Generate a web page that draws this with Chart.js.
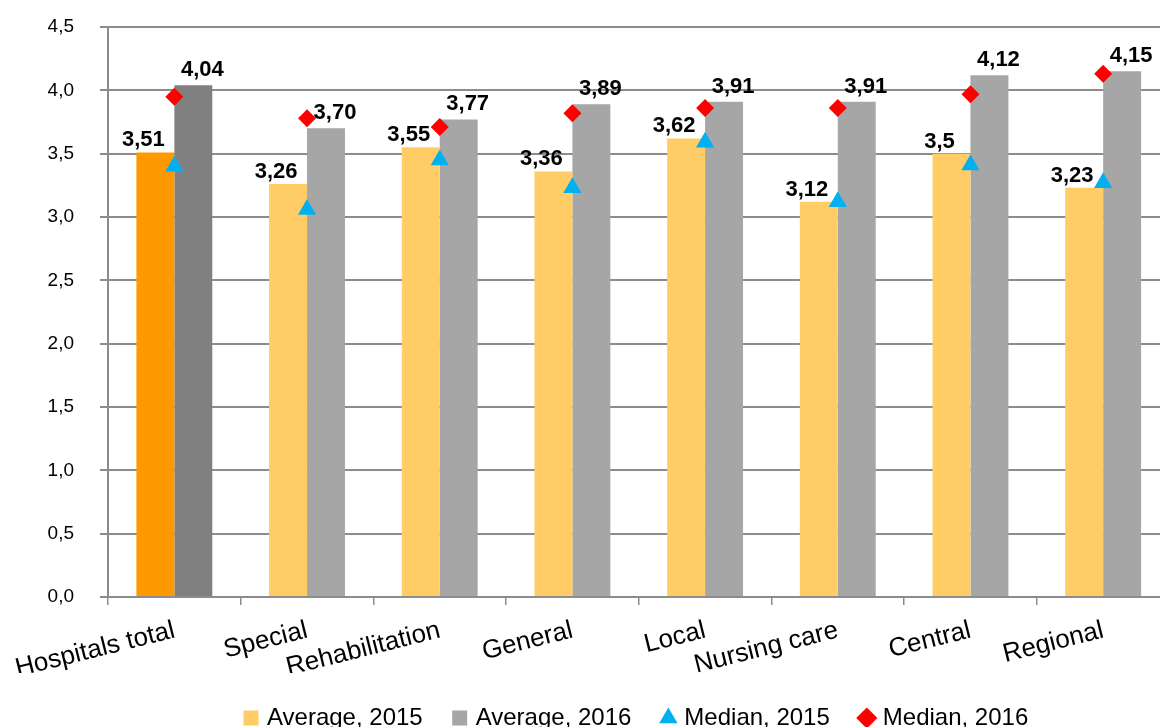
<!DOCTYPE html>
<html>
<head>
<meta charset="UTF-8">
<style>
  html, body { margin: 0; padding: 0; overflow: hidden; background: #fff; }
  #wrap { width: 1180px; height: 740px; }
</style>
</head>
<body>
<div id="wrap">
  <canvas id="myChart" width="1180" height="740"></canvas>
</div>

<script src="https://cdn.jsdelivr.net/npm/chart.js@4.4.0/dist/chart.umd.min.js"></script>

<script>
  const categories = ['Hospitals total', 'Special', 'Rehabilitation', 'General', 'Local', 'Nursing care', 'Central', 'Regional'];
  const average2015 = [3.51, 3.26, 3.55, 3.36, 3.62, 3.12, 3.5, 3.23];
  const average2016 = [4.04, 3.70, 3.77, 3.89, 3.91, 3.91, 4.12, 4.15];
  const median2015 = [3.40, 3.06, 3.45, 3.23, 3.59, 3.12, 3.41, 3.27];
  const median2016 = [3.95, 3.78, 3.71, 3.82, 3.86, 3.86, 3.97, 4.13];
  const yTicks = [0, 0.5, 1, 1.5, 2, 2.5, 3, 3.5, 4, 4.5];

  const FONT = '"Liberation Sans", Arial, sans-serif';
  const GRID = '#8c8c8c';

  // first bar of each series is darker (total)
  const orange = ctx => ctx.dataIndex === 0 ? '#FF9900' : '#FFCC66';
  const grey = ctx => ctx.dataIndex === 0 ? '#808080' : '#A6A6A6';

  const comma = s => s.replace('.', ',');

  // value labels above the bars
  const barLabels = {
    id: 'barLabels',
    afterDatasetsDraw(chart) {
      const ctx = chart.ctx;
      ctx.save();
      ctx.font = 'bold 22px ' + FONT;
      ctx.fillStyle = '#000';
      ctx.textAlign = 'center';
      ctx.textBaseline = 'alphabetic';
      chart.getDatasetMeta(0).data.forEach((bar, i) => {
        ctx.fillText(comma(String(average2015[i])), bar.x - 12, bar.y - 6);
      });
      chart.getDatasetMeta(1).data.forEach((bar, i) => {
        ctx.fillText(comma(average2016[i].toFixed(2)), bar.x + 9, bar.y - 9);
      });
      ctx.restore();
    }
  };

  // legend sits a bit right of the canvas centre
  const legendShift = {
    id: 'legendShift',
    afterLayout(chart) {
      const lg = chart.legend;
      const pad = lg.options.labels.padding;
      const startX = (lg.left + pad + lg.right - lg.lineWidths[0]) / 2;
      const dx = 247 - startX;
      lg.left += dx;
      lg.right += dx;
    }
  };

  const data = {
    labels: categories,
    datasets: [
      {
        type: 'bar',
        label: 'Average, 2015',
        data: average2015,
        backgroundColor: orange,
        order: 1,
      },
      {
        type: 'bar',
        label: 'Average, 2016',
        data: average2016,
        backgroundColor: grey,
        order: 1,
      },
      {
        type: 'line',
        label: 'Median, 2015',
        data: median2015,
        showLine: false,
        pointStyle: 'triangle',
        pointRadius: 10.5,
        pointHoverRadius: 10.5,
        pointBackgroundColor: '#00B0F0',
        pointBorderWidth: 0,
        backgroundColor: '#00B0F0',
        borderColor: '#00B0F0',
        order: 0,
      },
      {
        type: 'line',
        label: 'Median, 2016',
        data: median2016,
        showLine: false,
        pointStyle: 'rectRot',
        pointRadius: 9,
        pointHoverRadius: 9,
        pointBackgroundColor: '#FF0000',
        pointBorderWidth: 0,
        backgroundColor: '#FF0000',
        borderColor: '#FF0000',
        order: 0,
      }
    ]
  };

  const config = {
    type: 'bar',
    data: data,
    plugins: [barLabels, legendShift],
    options: {
      responsive: false,
      animation: false,
      layout: {
        padding: { left: 8, right: 8, top: 27, bottom: 0 }
      },
      datasets: {
        bar: {
          categoryPercentage: 0.572,
          barPercentage: 1.0,
          borderWidth: 0,
        }
      },
      plugins: {
        tooltip: { enabled: false },
        legend: {
          position: 'bottom',
          labels: {
            font: { family: FONT, size: 24 },
            color: '#000',
            usePointStyle: true,
            boxWidth: 8,
            boxHeight: 15,
            padding: 33,
            sort: (a, b) => a.datasetIndex - b.datasetIndex,
            generateLabels(chart) {
              const items = Chart.defaults.plugins.legend.labels.generateLabels(chart);
              items.forEach(it => {
                if (it.datasetIndex === 0) { it.fillStyle = '#FFCC66'; it.pointStyle = 'rect'; }
                if (it.datasetIndex === 1) { it.fillStyle = '#A6A6A6'; it.pointStyle = 'rect'; }
                it.lineWidth = 0;
                it.strokeStyle = it.fillStyle;
              });
              return items;
            }
          }
        }
      },
      scales: {
        x: {
          afterFit: s => { s.height = 76; s.paddingLeft = 0; s.paddingRight = 0; },
          grid: {
            display: true,
            offset: true,
            drawOnChartArea: false,
            drawTicks: true,
            tickLength: 8,
            color: GRID,
            lineWidth: 1.5,
          },
          border: { display: true, color: GRID, width: 2 },
          ticks: {
            autoSkip: false,
            minRotation: 14,
            maxRotation: 14,
            padding: 10,
            color: '#000',
            font: { family: FONT, size: 26 },
          }
        },
        y: {
          min: 0,
          max: 4.5,
          afterFit: s => { s.width = 100; s.paddingTop = 0; s.paddingBottom = 0; },
          afterBuildTicks: s => { s.ticks = yTicks.map(v => ({ value: v })); },
          grid: {
            color: GRID,
            lineWidth: 2,
            tickLength: 8,
          },
          border: { display: true, color: GRID, width: 2 },
          ticks: {
            padding: 26,
            color: '#000',
            font: { family: FONT, size: 19 },
            callback: v => comma(Number(v).toFixed(1)),
          }
        }
      }
    }
  };

  new Chart(document.getElementById('myChart'), config);
</script>
</body>
</html>
